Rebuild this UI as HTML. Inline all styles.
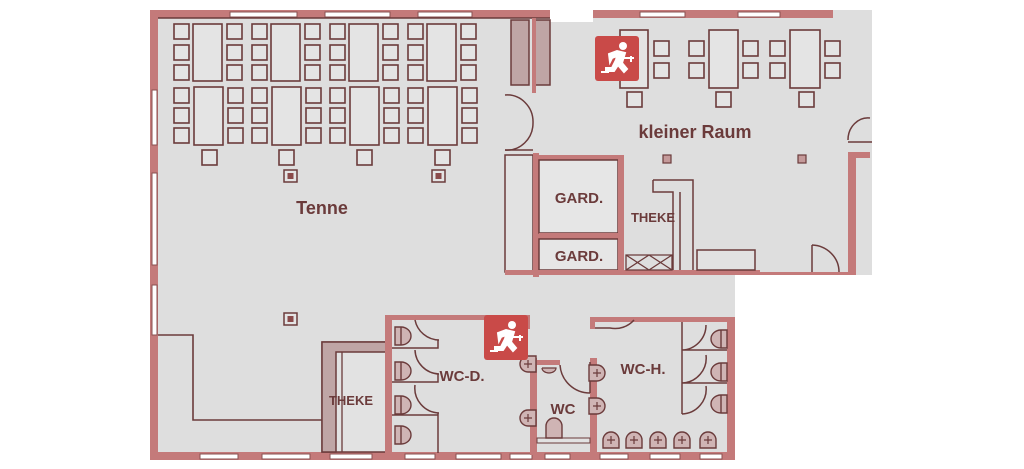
<!DOCTYPE html>
<html><head><meta charset="utf-8"><style>
html,body{margin:0;padding:0;background:#fff;width:1024px;height:469px;overflow:hidden}
svg{display:block}
text{font-family:"Liberation Sans",sans-serif;font-weight:bold;fill:#6b3b3b}
</style></head><body>
<svg width="1024" height="469" viewBox="0 0 1024 469" xmlns="http://www.w3.org/2000/svg">
<defs>
<g id="ch"><rect width="15" height="15" fill="#e4e4e4" stroke="#6b3b3b" stroke-width="1.6"/></g>
<g id="grp">
 <use href="#ch" x="0" y="24"/><use href="#ch" x="0" y="45"/><use href="#ch" x="0" y="65"/>
 <use href="#ch" x="0" y="88"/><use href="#ch" x="0" y="108"/><use href="#ch" x="0" y="128"/>
 <rect x="19" y="24" width="29" height="57" fill="#e4e4e4" stroke="#6b3b3b" stroke-width="1.6"/>
 <rect x="20" y="87" width="29" height="58" fill="#e4e4e4" stroke="#6b3b3b" stroke-width="1.6"/>
 <use href="#ch" x="53" y="24"/><use href="#ch" x="53" y="45"/><use href="#ch" x="53" y="65"/>
 <use href="#ch" x="54" y="88"/><use href="#ch" x="54" y="108"/><use href="#ch" x="54" y="128"/>
</g>
<g id="pil"><rect width="13" height="12" fill="#e4e4e4" stroke="#6b3b3b" stroke-width="1.5"/><rect x="3.5" y="3" width="6" height="6" fill="#8a4a4a"/></g>
<g id="wcl"><path d="M0,0 h6 a10,9 0 0 1 0,18 h-6 z" fill="#cfb4b4" stroke="#6b3b3b" stroke-width="1.4"/><line x1="6" y1="0" x2="6" y2="18" stroke="#6b3b3b" stroke-width="1.4"/></g>
<g id="wcr"><path d="M0,0 h-6 a10,9 0 0 0 0,18 h6 z" fill="#cfb4b4" stroke="#6b3b3b" stroke-width="1.4"/><line x1="-6" y1="0" x2="-6" y2="18" stroke="#6b3b3b" stroke-width="1.4"/></g>
<g id="sink"><path d="M0,0 a8,8 0 0 1 16,0 v8 h-16 z" fill="#cfb4b4" stroke="#6b3b3b" stroke-width="1.4"/><path d="M8,-4 v8 M4,0 h8" stroke="#6b3b3b" stroke-width="1.2"/></g>
<g id="exit"><rect width="44" height="45" rx="3" fill="#c94a48"/><rect x="4" y="4" width="36" height="37" fill="#ffffff" opacity="0.0"/>
<circle cx="28" cy="10" r="4" fill="#fff"/><path d="M14,18 l8,-3 l8,2 l-3,10 l5,6 l-3,3 l-6,-7 l-4,6 h-8 v-3 h6 l4,-8 l1,-4 l-5,2 l-2,4 z M29,22 h10" stroke="#fff" stroke-width="2" fill="#fff"/>
<path d="M6,36 h8 M36,20 v6" stroke="#fff" stroke-width="2"/></g>
</defs>

<!-- floors -->
<rect x="150" y="10" width="585" height="450" fill="#dedede"/>
<rect x="500" y="10" width="372" height="265" fill="#dedede"/>
<rect x="550" y="10" width="43" height="12" fill="#fff"/>

<!-- outer walls -->
<g fill="#c47a7a">
 <rect x="150" y="10" width="400" height="8"/>
 <rect x="150" y="10" width="8" height="450"/>
 <rect x="593" y="10" width="240" height="8"/>
 <rect x="848" y="155" width="8" height="120"/>
 <rect x="848" y="152" width="22" height="6"/>
 <rect x="150" y="452" width="585" height="8"/>
 <rect x="727" y="318" width="8" height="142"/>
</g>
<!-- windows -->
<g fill="#fff" stroke="#8a5050" stroke-width="1">
 <rect x="230" y="12" width="67" height="5"/><rect x="325" y="12" width="65" height="5"/><rect x="418" y="12" width="54" height="5"/>
 <rect x="640" y="12" width="45" height="5"/><rect x="738" y="12" width="42" height="5"/>
 <rect x="152" y="90" width="5" height="55"/><rect x="152" y="173" width="5" height="92"/><rect x="152" y="285" width="5" height="50"/>
 <rect x="200" y="454" width="38" height="5"/><rect x="262" y="454" width="48" height="5"/><rect x="330" y="454" width="42" height="5"/>
 <rect x="405" y="454" width="30" height="5"/><rect x="456" y="454" width="45" height="5"/><rect x="510" y="454" width="22" height="5"/>
 <rect x="545" y="454" width="25" height="5"/><rect x="600" y="454" width="28" height="5"/><rect x="650" y="454" width="30" height="5"/><rect x="700" y="454" width="22" height="5"/>
</g>
<line x1="158" y1="18" x2="550" y2="18" stroke="#6b3b3b" stroke-width="1.5"/>

<!-- tables Tenne -->
<use href="#grp" x="174"/><use href="#grp" x="252"/><use href="#grp" x="330"/><use href="#grp" x="408"/>
<use href="#ch" x="202" y="150"/><use href="#ch" x="279" y="150"/><use href="#ch" x="357" y="150"/><use href="#ch" x="435" y="150"/>
<use href="#pil" x="284" y="170"/><use href="#pil" x="432" y="170"/><use href="#pil" x="284" y="313"/>

<!-- shaded columns -->
<rect x="511" y="20" width="18" height="65" fill="#bfa5a5" stroke="#6b3b3b" stroke-width="1.5"/>
<rect x="535" y="20" width="15" height="65" fill="#bfa5a5" stroke="#6b3b3b" stroke-width="1.5"/>
<rect x="532" y="18" width="4" height="75" fill="#c47a7a"/>
<!-- double door left of kleiner raum -->
<path d="M505,95 a26,27 0 0 1 28,28 M505,150 a26,27 0 0 0 28,-27" fill="none" stroke="#6b3b3b" stroke-width="1.5"/>
<line x1="505" y1="150" x2="533" y2="150" stroke="#6b3b3b" stroke-width="1.5"/>

<!-- kleiner Raum tables -->
<rect x="620" y="30" width="28" height="58" fill="#e4e4e4" stroke="#6b3b3b" stroke-width="1.6"/>
<use href="#ch" x="654" y="41"/><use href="#ch" x="654" y="63"/>
<use href="#ch" x="689" y="41"/><use href="#ch" x="689" y="63"/>
<rect x="709" y="30" width="29" height="58" fill="#e4e4e4" stroke="#6b3b3b" stroke-width="1.6"/>
<use href="#ch" x="743" y="41"/><use href="#ch" x="743" y="63"/>
<use href="#ch" x="770" y="41"/><use href="#ch" x="770" y="63"/>
<rect x="790" y="30" width="30" height="58" fill="#e4e4e4" stroke="#6b3b3b" stroke-width="1.6"/>
<use href="#ch" x="825" y="41"/><use href="#ch" x="825" y="63"/>
<use href="#ch" x="627" y="92"/><use href="#ch" x="716" y="92"/><use href="#ch" x="799" y="92"/>
<rect x="663" y="155" width="8" height="8" fill="#c49a9a" stroke="#6b3b3b" stroke-width="1.2"/>
<rect x="798" y="155" width="8" height="8" fill="#c49a9a" stroke="#6b3b3b" stroke-width="1.2"/>
<path d="M848,140 a20,22 0 0 1 22,-22" fill="none" stroke="#6b3b3b" stroke-width="1.5"/><line x1="848" y1="142" x2="872" y2="142" stroke="#6b3b3b" stroke-width="1.5"/>
<use href="#exit" x="595" y="36"/>

<!-- GARD area -->
<rect x="505" y="155" width="28" height="117" fill="#e2e2e2" stroke="#6b3b3b" stroke-width="1.5"/>
<rect x="533" y="153" width="6" height="124" fill="#c47a7a"/>
<rect x="539" y="155" width="84" height="5" fill="#c47a7a"/>
<rect x="539" y="160" width="79" height="73" fill="#e6e6e6" stroke="#6b3b3b" stroke-width="1.5"/>
<rect x="539" y="233" width="79" height="6" fill="#c47a7a"/>
<rect x="539" y="239" width="79" height="31" fill="#e6e6e6" stroke="#6b3b3b" stroke-width="1.5"/>
<rect x="618" y="155" width="6" height="120" fill="#c47a7a"/>
<rect x="505" y="270" width="255" height="5" fill="#c47a7a"/>
<rect x="760" y="272" width="95" height="3" fill="#c47a7a"/>
<!-- theke upper -->
<path d="M653,180 h40 v90 M653,180 v12 h20 v78 M680,192 v78" fill="none" stroke="#6b3b3b" stroke-width="1.5"/>
<path d="M626,255 h46 v15 h-46 z M626,255 l23,15 M649,255 l-23,15 M649,255 l23,15 M672,255 l-23,15" fill="none" stroke="#6b3b3b" stroke-width="1.3"/>
<rect x="697" y="250" width="58" height="20" fill="#e2e2e2" stroke="#6b3b3b" stroke-width="1.5"/>
<path d="M812,245 a28,27 0 0 1 27,27 M812,245 v27" fill="none" stroke="#6b3b3b" stroke-width="1.5"/>
<rect x="735" y="275" width="140" height="10" fill="#fff"/>

<!-- lower left counter -->
<path d="M158,335 h35 v85 h129" fill="none" stroke="#6b3b3b" stroke-width="1.6"/>
<rect x="322" y="342" width="66" height="110" fill="#e2e2e2" stroke="#6b3b3b" stroke-width="1.5"/>
<path d="M322,342 h66 v10 h-52 v100 h-14 z" fill="#bfa5a5" stroke="#6b3b3b" stroke-width="1.5"/>
<line x1="342" y1="352" x2="342" y2="452" stroke="#6b3b3b" stroke-width="1.3"/>

<!-- WC walls -->
<g fill="#c47a7a">
 <rect x="385" y="315" width="7" height="140"/>
 <rect x="385" y="315" width="145" height="5"/>
 <rect x="525" y="315" width="5" height="14"/>
 <rect x="530" y="358" width="7" height="97"/>
 <rect x="530" y="360" width="30" height="5"/>
 <rect x="590" y="358" width="7" height="97"/>
 <rect x="590" y="317" width="145" height="5"/>
 <rect x="590" y="317" width="5" height="12"/>
</g>
<rect x="537" y="438" width="53" height="5" fill="#e2e2e2" stroke="#6b3b3b" stroke-width="1"/>
<!-- WC-D stalls -->
<g fill="none" stroke="#6b3b3b" stroke-width="1.5">
 <path d="M392,348 h46 v-8 M392,382 h46 v-8 M392,415 h46"/>
 <path d="M415,320 a25,25 0 0 0 24,20 M415,350 a25,25 0 0 0 24,24 M415,385 a25,25 0 0 0 24,28 M438,413 v40"/>
 <path d="M560,365 a30,30 0 0 0 30,28 M590,362 v31"/>
 <path d="M595,328 h15 a25,25 0 0 0 24,-8"/>
 <path d="M682,322 v92 M682,350 h45 M682,383 h45 M682,350 a25,25 0 0 0 24,-25 M682,383 a25,25 0 0 0 24,-28 M682,414 a25,25 0 0 0 24,-28"/>
</g>
<use href="#wcl" x="395" y="327"/><use href="#wcl" x="395" y="362"/><use href="#wcl" x="395" y="396"/><use href="#wcl" x="395" y="426"/>
<use href="#wcr" x="727" y="330"/><use href="#wcr" x="727" y="363"/><use href="#wcr" x="727" y="395"/>
<g transform="translate(528,372) rotate(-90)"><use href="#sink"/></g>
<g transform="translate(528,426) rotate(-90)"><use href="#sink"/></g>
<g transform="translate(597,365) rotate(90)"><use href="#sink"/></g>
<g transform="translate(597,398) rotate(90)"><use href="#sink"/></g>
<use href="#sink" x="603" y="440"/><use href="#sink" x="626" y="440"/><use href="#sink" x="650" y="440"/><use href="#sink" x="674" y="440"/><use href="#sink" x="700" y="440"/>
<path d="M546,438 v-12 a8,8 0 0 1 16,0 v12 z" fill="#cfb4b4" stroke="#6b3b3b" stroke-width="1.4"/>
<path d="M542,368 h14 a7,5 0 0 1 -14,0" fill="#cfb4b4" stroke="#6b3b3b" stroke-width="1.2"/>
<use href="#exit" x="484" y="315"/>

<!-- labels -->
<text x="322" y="214" font-size="18" text-anchor="middle">Tenne</text>
<text x="695" y="138" font-size="18" text-anchor="middle" font-weight="normal" style="font-weight:600">kleiner Raum</text>
<text x="579" y="203" font-size="15" text-anchor="middle">GARD.</text>
<text x="579" y="261" font-size="15" text-anchor="middle">GARD.</text>
<text x="653" y="222" font-size="13" text-anchor="middle">THEKE</text>
<text x="351" y="405" font-size="13" text-anchor="middle">THEKE</text>
<text x="462" y="381" font-size="15" text-anchor="middle">WC-D.</text>
<text x="563" y="414" font-size="15" text-anchor="middle">WC</text>
<text x="643" y="374" font-size="15" text-anchor="middle">WC-H.</text>
</svg>
</body></html>
